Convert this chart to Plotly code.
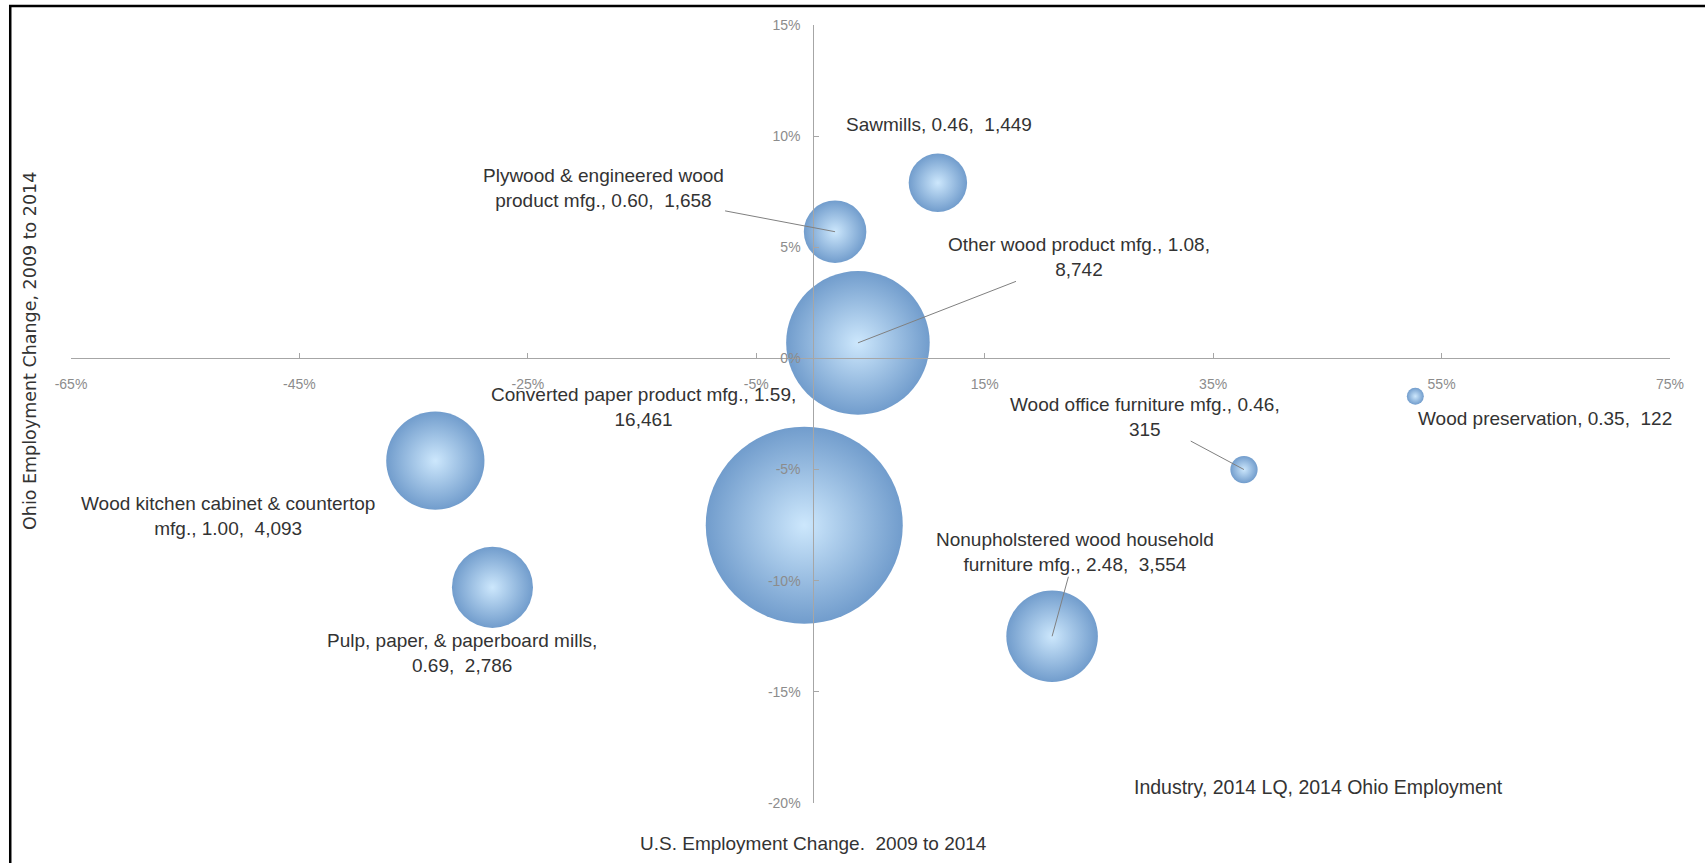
import plotly.graph_objects as go

# ---- data ----
industries = [
    "Sawmills",
    "Plywood & engineered wood product mfg.",
    "Other wood product mfg.",
    "Converted paper product mfg.",
    "Wood kitchen cabinet & countertop mfg.",
    "Pulp, paper, & paperboard mills",
    "Nonupholstered wood household furniture mfg.",
    "Wood office furniture mfg.",
    "Wood preservation",
]
us_change = [10.9, 1.9, 3.9, -0.8, -33.1, -28.1, 20.9, 37.7, 52.7]      # %
ohio_change = [7.9, 5.7, 0.7, -7.5, -4.6, -10.3, -12.5, -5.0, -1.7]     # %
lq_2014 = [0.46, 0.60, 1.08, 1.59, 1.00, 0.69, 2.48, 0.46, 0.35]
employment_2014 = [1449, 1658, 8742, 16461, 4093, 2786, 3554, 315, 122]

# where each label wraps (text of first line), "" = single line
label_break_after = [
    "",
    "Plywood & engineered wood",
    "Other wood product mfg., 1.08,",
    "Converted paper product mfg., 1.59,",
    "Wood kitchen cabinet & countertop",
    "Pulp, paper, & paperboard mills,",
    "Nonupholstered wood household",
    "Wood office furniture mfg., 0.46,",
    "",
]
# label offsets from bubble centre (pixels) and whether a leader line is drawn
label_dx = [1, -232, 221, -161, -207, -30, 23, -99, 130]
label_dy = [-58, -44, -86, -118, 55, 66, -84, -53, 22]
label_leader = [False, True, True, False, False, False, True, True, False]

x_ticks = [-65, -45, -25, -5, 15, 35, 55, 75]
y_ticks = [15, 10, 5, 0, -5, -10, -15, -20]

X_RANGE = [-65, 75]
Y_RANGE = [-20, 15]

# ---- figure ----
MAX_DIAM = 197
sizeref = 2.0 * max(employment_2014) / (MAX_DIAM ** 2)

fig = go.Figure()
fig.add_trace(go.Scatter(
    x=us_change, y=ohio_change, mode="markers",
    text=industries,
    marker=dict(
        size=employment_2014, sizemode="area", sizeref=sizeref,
        color="#6594c8",
        gradient=dict(type="radial", color="#c8e5fc"),
        opacity=0.92,
        line=dict(width=0),
    ),
    cliponaxis=False,
    showlegend=False,
    hoverinfo="text",
))

LABEL_FONT = dict(family="Liberation Sans, Arial, sans-serif", size=19, color="#333333")

for i, name in enumerate(industries):
    txt = f"{name}, {lq_2014[i]:.2f},  {employment_2014[i]:,}"
    br = label_break_after[i]
    if br:
        txt = br + "<br>" + txt[len(br):].lstrip()
    fig.add_annotation(
        x=us_change[i], y=ohio_change[i], xref="x", yref="y",
        text=txt, ax=label_dx[i], ay=label_dy[i],
        showarrow=True, arrowhead=0, arrowwidth=1,
        arrowcolor="#808080" if label_leader[i] else "rgba(0,0,0,0)",
        standoff=0, startstandoff=0,
        font=LABEL_FONT, align="center",
    )

# axis titles / key
fig.add_annotation(
    x=0, y=0.0, xref="x", yref="paper", yshift=-40,
    text="U.S. Employment Change.  2009 to 2014", showarrow=False,
    font=dict(family="Liberation Sans, Arial, sans-serif", size=19, color="#333333"),
    xanchor="center", yanchor="middle",
)
fig.add_annotation(
    x=0.0, y=0.581, xref="paper", yref="paper", xshift=-41,
    text="Ohio Employment Change, 2009 to 2014", showarrow=False, textangle=-90,
    font=dict(family="DejaVu Sans, Verdana, sans-serif", size=17.5, color="#333333"),
    xanchor="center", yanchor="middle",
)
fig.add_annotation(
    x=0.78, y=0.02, xref="paper", yref="paper",
    text="Industry, 2014 LQ, 2014 Ohio Employment", showarrow=False,
    font=dict(family="Liberation Sans, Arial, sans-serif", size=19.5, color="#333333"),
    xanchor="center", yanchor="middle",
)

x_pos = (0 - Y_RANGE[0]) / (Y_RANGE[1] - Y_RANGE[0])
y_pos = (0 - X_RANGE[0]) / (X_RANGE[1] - X_RANGE[0])

TICK_FONT = dict(family="Liberation Sans, Arial, sans-serif", size=14, color="#8c8c8c")

fig.update_layout(
    width=1705, height=863,
    margin=dict(l=71, r=35, t=25, b=60),
    paper_bgcolor="white", plot_bgcolor="white",
    xaxis=dict(
        range=X_RANGE, tickvals=x_ticks, ticktext=[f"{v}%" for v in x_ticks],
        showgrid=False, zeroline=False, showline=True, linecolor="#a6a6a6", linewidth=1,
        ticks="inside", ticklen=5, tickcolor="#a6a6a6",
        anchor="free", position=x_pos, tickfont=TICK_FONT, ticklabelstandoff=13,
        fixedrange=True,
    ),
    yaxis=dict(
        range=Y_RANGE, tickvals=y_ticks, ticktext=[f"{v}%" for v in y_ticks],
        showgrid=False, zeroline=False, showline=True, linecolor="#a6a6a6", linewidth=1,
        ticks="inside", ticklen=5, tickcolor="#a6a6a6",
        anchor="free", position=y_pos, tickfont=TICK_FONT, ticklabelstandoff=10,
        fixedrange=True,
    ),
    shapes=[dict(
        type="rect", xref="paper", yref="paper",
        x0=-0.038, x1=1.03, y0=-0.09, y1=1.0245,
        line=dict(color="black", width=2.5), fillcolor="rgba(0,0,0,0)", layer="above",
    )],
)

fig.write_html("out.html")
